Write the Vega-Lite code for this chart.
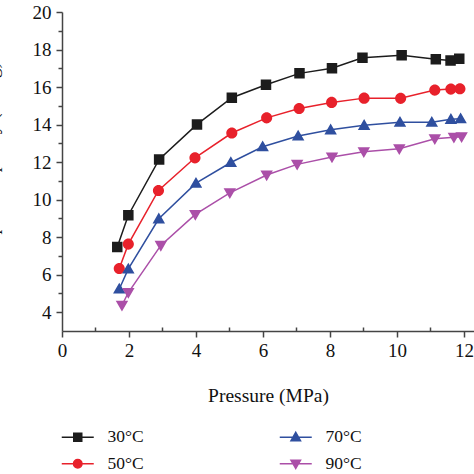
{
  "$schema": "https://vega.github.io/schema/vega-lite/v6.json",
  "width": 412,
  "height": 319,
  "autosize": {"type": "none"},
  "padding": {"left": 62, "top": 12, "right": 0, "bottom": 143},
  "background": "white",
  "config": {
    "view": {"stroke": null},
    "font": "Liberation Serif",
    "axis": {"grid": false, "domainColor": "#444", "tickColor": "#444", "labelColor": "#111", "titleColor": "#111", "labelFont": "Liberation Serif", "titleFont": "Liberation Serif", "titleFontWeight": "normal", "domainWidth": 1.5, "tickWidth": 1.5}
  },
  "data": {"values": [
    {"series": "30°C", "p": 1.65, "v": 7.48},
    {"series": "30°C", "p": 1.98, "v": 9.17},
    {"series": "30°C", "p": 2.90, "v": 12.14},
    {"series": "30°C", "p": 4.03, "v": 14.01},
    {"series": "30°C", "p": 5.07, "v": 15.43},
    {"series": "30°C", "p": 6.09, "v": 16.12},
    {"series": "30°C", "p": 7.09, "v": 16.73},
    {"series": "30°C", "p": 8.06, "v": 17.0},
    {"series": "30°C", "p": 8.97, "v": 17.56},
    {"series": "30°C", "p": 10.14, "v": 17.69},
    {"series": "30°C", "p": 11.16, "v": 17.48},
    {"series": "30°C", "p": 11.60, "v": 17.42},
    {"series": "30°C", "p": 11.86, "v": 17.51},
    {"series": "50°C", "p": 1.71, "v": 6.33},
    {"series": "50°C", "p": 1.98, "v": 7.63},
    {"series": "50°C", "p": 2.88, "v": 10.49},
    {"series": "50°C", "p": 3.97, "v": 12.23},
    {"series": "50°C", "p": 5.07, "v": 13.55},
    {"series": "50°C", "p": 6.11, "v": 14.36},
    {"series": "50°C", "p": 7.08, "v": 14.86},
    {"series": "50°C", "p": 8.05, "v": 15.18},
    {"series": "50°C", "p": 9.02, "v": 15.41},
    {"series": "50°C", "p": 10.11, "v": 15.40},
    {"series": "50°C", "p": 11.13, "v": 15.84},
    {"series": "50°C", "p": 11.61, "v": 15.89},
    {"series": "50°C", "p": 11.88, "v": 15.91},
    {"series": "70°C", "p": 1.71, "v": 5.24},
    {"series": "70°C", "p": 1.98, "v": 6.31},
    {"series": "70°C", "p": 2.89, "v": 8.98},
    {"series": "70°C", "p": 4.0, "v": 10.88},
    {"series": "70°C", "p": 5.04, "v": 11.98},
    {"series": "70°C", "p": 5.99, "v": 12.82},
    {"series": "70°C", "p": 7.05, "v": 13.39},
    {"series": "70°C", "p": 8.02, "v": 13.72},
    {"series": "70°C", "p": 9.02, "v": 13.96},
    {"series": "70°C", "p": 10.09, "v": 14.13},
    {"series": "70°C", "p": 11.04, "v": 14.13},
    {"series": "70°C", "p": 11.61, "v": 14.28},
    {"series": "70°C", "p": 11.90, "v": 14.31},
    {"series": "90°C", "p": 1.79, "v": 4.37},
    {"series": "90°C", "p": 1.98, "v": 5.05},
    {"series": "90°C", "p": 2.95, "v": 7.56},
    {"series": "90°C", "p": 3.98, "v": 9.21},
    {"series": "90°C", "p": 5.01, "v": 10.36},
    {"series": "90°C", "p": 6.11, "v": 11.31},
    {"series": "90°C", "p": 7.02, "v": 11.88},
    {"series": "90°C", "p": 8.06, "v": 12.27},
    {"series": "90°C", "p": 9.01, "v": 12.55},
    {"series": "90°C", "p": 10.07, "v": 12.71},
    {"series": "90°C", "p": 11.13, "v": 13.24},
    {"series": "90°C", "p": 11.70, "v": 13.32},
    {"series": "90°C", "p": 11.93, "v": 13.35}
  ]},
  "encoding": {
    "x": {"field": "p", "type": "quantitative",
      "scale": {"domain": [0, 12.3], "nice": false, "zero": false},
      "axis": {"title": "Pressure (MPa)", "values": [0,1,2,3,4,5,6,7,8,9,10,11,12],
        "labelExpr": "datum.value % 2 === 0 ? datum.label : ''",
        "tickSize": {"condition": {"test": "datum.value % 2 === 0", "value": 6}, "value": -4},
        "labelFontSize": 19, "labelPadding": 4, "titleFontSize": 19.5, "titlePadding": 26, "labelFlush": false}},
    "y": {"field": "v", "type": "quantitative",
      "scale": {"domain": [3, 20], "nice": false, "zero": false},
      "axis": {"title": "Adsorption capacity (cm³/g)", "values": [4,5,6,7,8,9,10,11,12,13,14,15,16,17,18,19,20],
        "labelExpr": "datum.value % 2 === 0 ? datum.label : ''",
        "tickSize": {"condition": {"test": "datum.value % 2 === 0", "value": 6}, "value": 4},
        "labelFontSize": 19, "labelPadding": 5, "titleFontSize": 19.5,
        "titleX": -61, "titleBaseline": "bottom", "labelFlush": false}},
    "color": {"field": "series", "type": "nominal",
      "scale": {"domain": ["30°C", "70°C", "50°C", "90°C"], "range": ["#1c1c1c", "#2f4f9f", "#e8212b", "#ab4fa8"]},
      "legend": {
        "title": null, "orient": "none", "legendX": 7, "legendY": 416, "columns": 2,
        "direction": "horizontal", "padding": 0,
        "symbolSize": 100, "symbolStrokeWidth": 1.5, "symbolOpacity": 1, "labelOffset": 21,
        "symbolStrokeColor": {"expr": "scale('color', datum.value)"},
        "labelFontSize": 17.5, "labelFont": "Liberation Serif", "labelColor": "#111",
        "columnPadding": 132, "rowPadding": 8
      }}
  },
  "layer": [
    {"mark": {"type": "line", "strokeWidth": 1.5}, "encoding": {"order": {"field": "p", "type": "quantitative"}}},
    {"mark": {"type": "point", "filled": true, "size": 172, "opacity": 1},
      "encoding": {"shape": {"field": "series", "type": "nominal",
        "scale": {"domain": ["30°C", "70°C", "50°C", "90°C"], "range": [
          "M-3.2,0H3.2M-0.8,-0.8H0.8V0.8H-0.8Z",
          "M-3.2,0H3.2M0,-0.95L0.95,0.7L-0.95,0.7Z",
          "M-3.2,0H3.2M0.85,0A0.85,0.85,0,1,1,-0.85,0A0.85,0.85,0,1,1,0.85,0Z",
          "M-3.2,0H3.2M0,0.95L0.95,-0.7L-0.95,-0.7Z"]}}}}
  ]
}
